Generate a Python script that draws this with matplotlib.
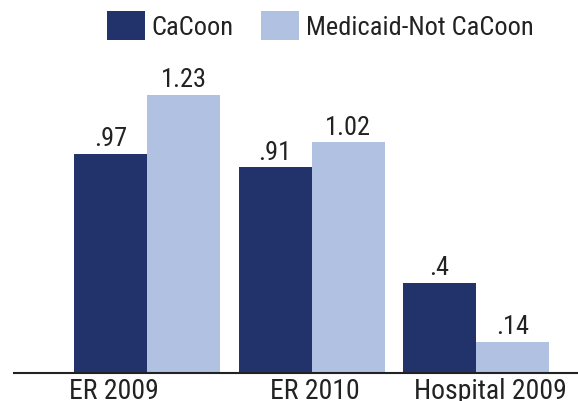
import numpy as np
import matplotlib.pyplot as plt

plt.rcParams['font.family'] = ['Roboto Condensed', 'Archivo Narrow', 'DejaVu Sans']

######## DATA ########
categories = ['ER 2009', 'ER 2010', 'Hospital 2009']
cacoon = [0.97, 0.91, 0.40]
medicaid = [1.23, 1.02, 0.14]
cacoon_lbl = ['.97', '.91', '.4']
medicaid_lbl = ['1.23', '1.02', '.14']
series_names = ['CaCoon', 'Medicaid-Not CaCoon']

dark = '#22326a'
light = '#b0c1e2'
ink = '#222222'

######## PLOT ########
W, H = 578, 402
fig = plt.figure(figsize=(W/100, H/100), dpi=100)
base = 374.3
ax = fig.add_axes([14/W, (H-base)/H, 1-14/W, base/H])

x = np.arange(len(categories))
w = 0.444
b1 = ax.bar(x - w/2, cacoon, w, color=dark, label=series_names[0])
b2 = ax.bar(x + w/2, medicaid, w, color=light, label=series_names[1])

for bars, lbls in ((b1, cacoon_lbl), (b2, medicaid_lbl)):
    for r, t in zip(bars, lbls):
        ax.annotate(t, (r.get_x() + r.get_width()/2, r.get_height()),
                    xytext=(0, 2.5), textcoords='offset points',
                    ha='center', va='bottom', fontsize=19, color=ink)

ax.set_xlim(-0.809, 2.62)
ax.set_ylim(0, base/226.3)

# category labels sit a bit off the group centres in the original
ax.set_xticks([-0.204, 1.02, 2.085])
ax.set_xticklabels(categories, fontsize=20, color=ink)
ax.tick_params(axis='x', length=0, pad=3)
ax.set_yticks([])
for s in ['top', 'left', 'right']:
    ax.spines[s].set_visible(False)
ax.spines['bottom'].set_linewidth(1.5)
ax.spines['bottom'].set_color(ink)

fig.legend(loc='upper left', bbox_to_anchor=(106.7/W, 1-12/H), ncol=2,
           frameon=False, fontsize=19, handlelength=1.44, handleheight=1.33,
           handletextpad=0.25, columnspacing=1.06, borderpad=0, borderaxespad=0,
           labelcolor=ink)

fig.savefig('out.png', dpi=100)
